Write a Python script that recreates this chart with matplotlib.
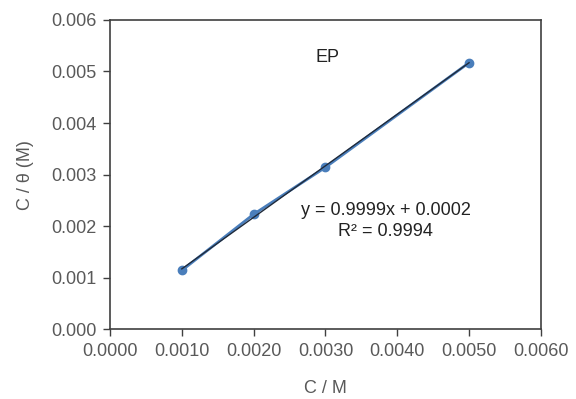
import matplotlib
matplotlib.use("Agg")
import matplotlib.pyplot as plt
import numpy as np

plt.rcParams['font.family'] = ['Liberation Sans', 'DejaVu Sans']

conc = [0.0010, 0.0020, 0.0030, 0.0050]
c_theta = [0.00114, 0.00223, 0.00314, 0.00517]
x_ticks = [0.0, 0.001, 0.002, 0.003, 0.004, 0.005, 0.006]
y_ticks = [0.0, 0.001, 0.002, 0.003, 0.004, 0.005, 0.006]

fig = plt.figure(figsize=(5.76, 3.99), dpi=100)
ax = fig.add_axes([0.191, 0.175, 0.748, 0.775])

# data series + linear trendline fitted to it
ax.plot(conc, c_theta, color='#4a7ebb', lw=2, marker='o', ms=6, zorder=3)
slope, intercept = np.polyfit(conc, c_theta, 1)
xf = np.array([conc[0], conc[-1]])
ax.plot(xf, slope * xf + intercept, color='#1f2a3a', lw=1, zorder=4)

ax.set_xlim(0, 0.006)
ax.set_ylim(0, 0.006)
ax.set_xticks(x_ticks)
ax.set_yticks(y_ticks)
ax.set_xticklabels([f"{v:.4f}" for v in x_ticks])
ax.set_yticklabels([f"{v:.3f}" for v in y_ticks])
ax.tick_params(direction='out', length=5, width=1, colors='#404040',
               labelsize=13, labelcolor='#595959', pad=5)
for s in ax.spines.values():
    s.set_color('#404040')
    s.set_linewidth(1.2)

ax.set_xlabel("C / M", fontsize=13, color='#595959', labelpad=14)
ax.set_ylabel("C / θ (M)", fontsize=13, color='#595959', labelpad=12)

ax.text(0.00303, 0.00528, "EP", fontsize=13, color='#222222', ha='center', va='center')
ax.text(0.00384, 0.00210, "y = 0.9999x + 0.0002\nR² = 0.9994", fontsize=13,
        color='#222222', ha='center', va='center', linespacing=1.35)

fig.savefig("out.png", dpi=100)
